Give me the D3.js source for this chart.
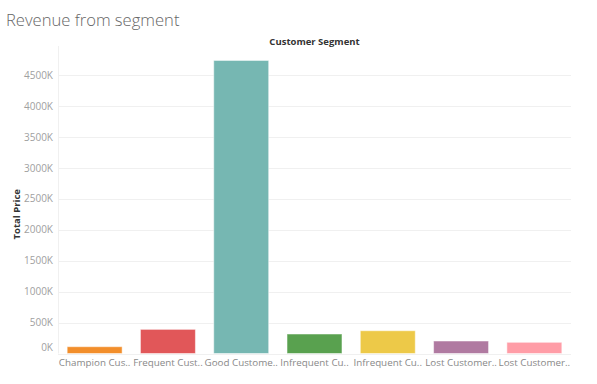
<!DOCTYPE html>
<html>
<head>
<meta charset="utf-8">
<script src="https://cdn.jsdelivr.net/npm/d3@7"></script>
<style>
  body { margin: 0; background: #fff; }
  text { font-family: "Open Sans", "Noto Sans", sans-serif; }
</style>
</head>
<body>
<svg id="chart" width="597" height="384"></svg>
<script>
// labels as shown (already truncated in the original)
var categories = ['Champion Cus..', 'Frequent Cust..', 'Good Custome..', 'Infrequent Cu..', 'Infrequent Cu..', 'Lost Customer..', 'Lost Customer..'];
var revenue = [110000, 390000, 4735000, 315000, 368000, 202000, 181000];
var barColors = ['#f28e2b', '#e15759', '#76b7b2', '#59a14f', '#edc948', '#b07aa1', '#ff9da7'];
var yTicks = [0, 500000, 1000000, 1500000, 2000000, 2500000, 3000000, 3500000, 4000000, 4500000];

var svg = d3.select('#chart');
var left = 58, right = 571, top = 55, bottom = 353.5;

var x = d3.scaleBand().domain(d3.range(categories.length)).range([left, right]).paddingInner(0.25).paddingOuter(0.125);
var y = d3.scaleLinear().domain([0, 4500000]).range([bottom, 75]);

svg.append('text').attr('x', 6).attr('y', 26).attr('fill', '#666').attr('font-size', 16.6).attr('font-weight', 300).text('Revenue from segment');

svg.append('text').attr('x', (left + right) / 2).attr('y', 45).attr('text-anchor', 'middle')
    .attr('font-size', 9.5).attr('font-weight', 'bold').attr('fill', '#333').text('Customer Segment');

svg.append('text').attr('transform', 'translate(20,' + (bottom + 75) / 2 + ') rotate(-90)')
    .attr('text-anchor', 'middle').attr('font-size', 9.5).attr('font-weight', 'bold').attr('fill', '#333').text('Total Price');

// gridlines
svg.append('g').selectAll('line').data(yTicks).join('line')
    .attr('x1', left).attr('x2', right)
    .attr('y1', function(d) { return Math.round(y(d)) + 0.5; })
    .attr('y2', function(d) { return Math.round(y(d)) + 0.5; })
    .attr('stroke', '#f0f0f0');

svg.append('line').attr('x1', left + 0.5).attr('x2', left + 0.5).attr('y1', 46).attr('y2', bottom)
    .attr('stroke', '#f0f0f0');

// y axis
var yAxis = d3.axisLeft(y).tickValues(yTicks).tickSize(0).tickPadding(4)
    .tickFormat(function(d) { return (d / 1000) + 'K'; });
var gy = svg.append('g').attr('transform', 'translate(' + (left - 1) + ',0)').call(yAxis);
gy.select('.domain').remove();
gy.selectAll('text').attr('font-size', 10).attr('fill', '#a0a0a0').attr('font-family', '"Open Sans", sans-serif');
gy.selectAll('.tick').filter(function(d) { return d === 0; }).select('text').attr('dy', '-0.3em');

// bars
svg.append('g').selectAll('rect').data(revenue).join('rect')
    .attr('x', function(d, i) { return x(i); })
    .attr('width', x.bandwidth())
    .attr('y', function(d) { return y(d); })
    .attr('height', function(d) { return bottom - y(d); })
    .attr('fill', function(d, i) { return barColors[i]; })
    .attr('stroke', 'rgba(255,255,255,0.5)').attr('stroke-width', 1);

// x axis
var xAxis = d3.axisBottom(x).tickSize(0).tickPadding(6).tickFormat(function(i) { return categories[i]; });
var gx = svg.append('g').attr('transform', 'translate(0,' + bottom + ')').call(xAxis);
gx.select('.domain').remove();
gx.selectAll('text').attr('font-size', 9.8).attr('fill', '#888').attr('font-family', '"Open Sans", sans-serif');
</script>
</body>
</html>
